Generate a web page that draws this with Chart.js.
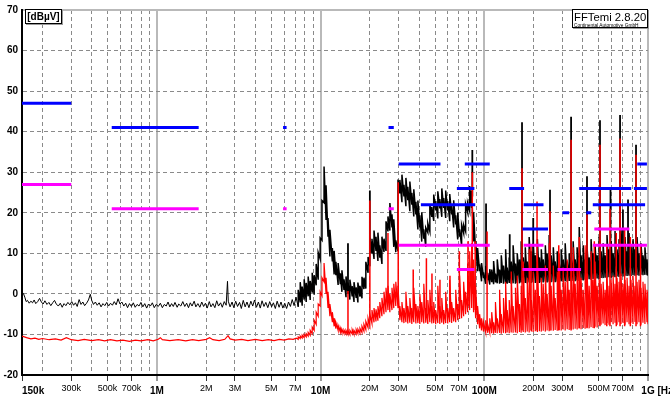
<!DOCTYPE html>
<html>
<head>
<meta charset="utf-8">
<script src="https://cdn.jsdelivr.net/npm/chart.js@4.4.1/dist/chart.umd.min.js"></script>
<style>
html, body { margin: 0; padding: 0; background: #fff; }
#wrap { position: relative; width: 670px; height: 403px; overflow: hidden; }
#c { position: absolute; left: 0; top: 0; }
.box { position: absolute; background: #fff; border: 1px solid #000; box-shadow: 1px 1px 0 #9a9a9a;
       font-family: "Liberation Sans", Arial, sans-serif; color: #000; box-sizing: border-box; }
#unit { left: 25px; top: 9px; width: 37px; height: 15px; font-weight: bold; font-size: 10px; line-height: 13px; text-align: center; }
#logo { left: 572px; top: 9px; width: 76px; height: 19px; }
#logo .t { position: absolute; left: 1px; top: 1px; font-size: 11.3px; line-height: 12px; white-space: nowrap; }
#logo .s { position: absolute; left: 1px; top: 12.5px; font-size: 4.8px; line-height: 5px; white-space: nowrap; }
</style>
</head>
<body>
<div id="wrap">
  <canvas id="c" width="670" height="403"></canvas>
  <div class="box" id="unit">[dBµV]</div>
  <div class="box" id="logo"><span class="t">FFTemi 2.8.20</span><span class="s">Continental Automotive GmbH</span></div>
</div>
<script>
/* ---------- axes ---------- */
const FONT = '"Liberation Sans", Arial, sans-serif';

const xLabelVals = [0.15, 0.3, 0.5, 0.7, 1, 2, 3, 5, 7, 10, 20, 30, 50, 70, 100, 200, 300, 500, 700, 1000];
const xLabelText = ["150k", "300k", "500k", "700k", "1M", "2M", "3M", "5M", "7M", "10M",
                    "20M", "30M", "50M", "70M", "100M", "200M", "300M", "500M", "700M", "1G [Hz]"];
const xBoldVals = [0.15, 1, 10, 100, 1000];
const xGridVals = [0.15, 0.2, 0.3, 0.4, 0.5, 0.6, 0.7, 0.8, 0.9,
                   1, 2, 3, 4, 5, 6, 7, 8, 9,
                   10, 20, 30, 40, 50, 60, 70, 80, 90,
                   100, 200, 300, 400, 500, 600, 700, 800, 900, 1000];
const decadeVals = [1, 10, 100, 1000];

/* ---------- limit lines [start MHz, end MHz, dBµV] ---------- */
const peakLimits = [
    [0.15, 0.3, 47], [0.53, 1.8, 41], [5.9, 6.2, 41], [26, 28, 41],
    [30, 54, 32], [76, 108, 32], [68, 87, 26], [41, 88, 22],
    [142, 175, 26], [174, 230, 22], [171, 245, 16], [300, 330, 20], [420, 450, 20],
    [380, 790, 26], [820, 985, 26], [460, 960, 22], [860, 985, 32]
];
const avgLimits = [
    [0.15, 0.3, 27], [0.53, 1.8, 21], [5.9, 6.2, 21], [26, 28, 21],
    [30, 108, 12], [68, 87, 6],
    [174, 230, 12], [171, 245, 6], [280, 390, 6], [470, 770, 16], [460, 985, 12]
];

/* ---------- low band, single sweep points [MHz, dBµV] ---------- */
const blackLow = [
    [0.150,-0.2],[0.153,0.1],[0.156,-0.8],[0.159,-1.9],[0.162,-1.6],[0.166,-2.3],[0.170,-1.8],[0.174,-2.2],
    [0.178,-1.5],[0.182,-2.4],[0.187,-1.9],[0.192,-1.1],[0.197,-2.0],[0.202,-2.5],[0.207,-1.7],[0.213,-2.6],
    [0.219,-2.1],[0.225,-2.9],[0.231,-2.2],[0.237,-1.6],[0.243,-2.5],[0.250,-3.0],[0.257,-2.3],[0.264,-3.3],
    [0.271,-2.4],[0.278,-2.9],[0.286,-2.1],[0.294,-2.7],[0.302,-1.9],[0.310,-2.8],[0.318,-2.2],[0.326,-3.1],
    [0.335,-1.4],[0.344,-2.6],[0.353,-2.0],[0.362,-2.9],[0.372,-2.3],[0.382,-1.5],[0.392,-0.1],[0.400,-1.6],
    [0.410,-2.6],[0.421,-2.0],[0.432,-2.8],[0.444,-2.2],[0.456,-3.2],[0.468,-2.4],[0.481,-2.9],[0.494,-2.1],
    [0.507,-3.0],[0.521,-2.3],[0.535,-2.8],[0.549,-1.9],[0.564,-2.7],[0.579,-1.2],[0.595,-2.5],[0.611,-2.0],
    [0.628,-3.0],[0.645,-2.3],[0.662,-3.4],[0.680,-2.4],[0.699,-3.1],[0.718,-2.2],[0.737,-3.3],[0.757,-2.6],
    [0.778,-3.0],[0.799,-2.1],[0.821,-3.2],[0.843,-2.4],[0.866,-3.5],[0.889,-2.5],[0.913,-3.0],[0.938,-2.2],
    [0.964,-3.4],[0.990,-2.6],[1.02,-3.1],[1.05,-2.3],[1.08,-3.4],[1.11,-2.6],[1.14,-3.0],[1.17,-2.0],
    [1.20,-3.2],[1.23,-2.4],[1.26,-3.1],[1.29,-2.1],[1.33,-3.3],[1.36,-2.5],[1.40,-3.0],[1.44,-1.9],
    [1.48,-3.1],[1.52,-2.3],[1.56,-3.4],[1.60,-2.2],[1.64,-3.0],[1.69,-1.8],[1.73,-3.2],[1.78,-2.4],
    [1.83,-3.3],[1.88,-2.0],[1.93,-3.1],[1.98,-2.3],[2.03,-3.5],[2.09,-1.9],[2.14,-3.2],[2.20,-2.4],
    [2.26,-3.4],[2.32,-1.7],[2.38,-3.0],[2.45,-2.2],[2.51,-3.3],[2.58,-1.9],[2.65,-2.8],[2.70,3.1],
    [2.73,-1.8],[2.80,-3.2],[2.88,-2.0],[2.95,-3.4],[3.03,-1.8],[3.11,-3.1],[3.20,-2.1],[3.28,-3.6],
    [3.37,-1.6],[3.46,-3.2],[3.55,-2.0],[3.65,-3.4],[3.75,-1.8],[3.85,-3.0],[3.95,-1.5],[4.06,-3.3],
    [4.17,-2.0],[4.28,-3.5],[4.39,-1.7],[4.51,-3.1],[4.63,-2.1],[4.76,-3.4],[4.89,-1.9],[5.02,-3.2],
    [5.15,-2.2],[5.29,-3.6],[5.43,-1.8],[5.58,-3.3],[5.73,-2.0],[5.88,-3.5],[6.04,-2.3],[6.20,-3.6],
    [6.37,-2.0],[6.54,-3.1],[6.71,-1.4],[6.89,-2.9],[7.08,-0.8],[7.30,-3.2]
];
const redLow = [
    [0.150,-10.4],[0.160,-10.8],[0.170,-11.1],[0.180,-10.9],[0.190,-11.2],[0.200,-11.0],[0.220,-11.3],
    [0.240,-11.1],[0.260,-11.4],[0.280,-10.8],[0.300,-11.3],[0.330,-11.5],[0.360,-11.2],[0.400,-11.5],
    [0.440,-11.3],[0.480,-11.6],[0.520,-11.3],[0.570,-11.6],[0.620,-11.4],[0.680,-11.7],[0.740,-11.4],
    [0.800,-11.6],[0.880,-11.3],[0.950,-11.6],[1.02,-11.2],[1.05,-10.8],[1.08,-11.3],[1.20,-11.5],
    [1.35,-11.3],[1.50,-11.6],[1.65,-11.3],[1.80,-11.5],[2.00,-11.2],[2.10,-10.8],[2.20,-11.3],
    [2.40,-11.5],[2.60,-11.2],[2.72,-10.3],[2.80,-11.1],[3.00,-11.4],[3.30,-11.2],[3.60,-11.5],
    [4.00,-11.2],[4.40,-11.5],[4.80,-11.3],[5.20,-11.5],[5.60,-11.2],[6.00,-11.4],[6.40,-11.1],
    [6.80,-11.2],[7.10,-10.9]
];

/* ---------- upper band, min/max per bin ---------- */
const binFreq = [
    7.30, 7.51, 7.72, 7.94, 8.17, 8.40, 8.64, 8.89, 9.14, 9.40,
    9.67, 9.94, 10.2, 10.5, 10.8, 11.1, 11.4, 11.8, 12.1, 12.4,
    12.8, 13.2, 13.5, 13.9, 14.3, 14.7, 15.1, 15.6, 16.0, 16.5,
    16.9, 17.4, 17.9, 18.4, 18.9, 19.5, 20.0, 20.6, 21.2, 21.8,
    22.4, 23.0, 23.7, 24.4, 25.1, 25.8, 26.5, 27.3, 28.0, 28.8,
    29.7, 30.5, 31.4, 32.3, 33.2, 34.1, 35.1, 36.1, 37.1, 38.2,
    39.3, 40.4, 41.5, 42.7, 43.9, 45.2, 46.5, 47.8, 49.1, 50.5,
    52.0, 53.5, 55.0, 56.5, 58.1, 59.8, 61.5, 63.2, 65.0, 66.9,
    68.8, 70.7, 72.7, 74.8, 76.9, 79.1, 81.4, 83.7, 86.0, 88.5,
    91.0, 93.6, 96.2, 99.0, 102, 105, 108, 111, 114, 117,
    120, 124, 127, 131, 135, 138, 142, 146, 150, 155,
    159, 164, 168, 173, 178, 183, 188, 194, 199, 205,
    211, 217, 223, 229, 236, 242, 249, 256, 264, 271,
    279, 287, 295, 303, 312, 321, 330, 339, 349, 359,
    369, 380, 390, 402, 413, 425, 437, 449, 462, 475,
    489, 503, 517, 532, 547, 562, 578, 595, 612, 629,
    647, 665, 684, 704, 724, 745, 766, 787, 810, 833,
    857, 881, 906, 932, 958, 986, 1000
];
const blackMin = [
    -3.2, -2.1, -2.9, -1.4, -2.0, -0.6, -1.5, 0.3, -0.2, 2.1,
    3.5, 8.6, 13.2, 22.5, 18.2, 14.1, 9.2, 8.0, 4.8, 4.6,
    2.2, 2.4, 0.5, 1.0, -0.8, 0.0, -1.4, -0.6, -2.0, -1.0,
    -2.1, -0.7, -1.1, 1.2, 1.3, 5.2, 6.8, 9.9, 8.6, 10.6,
    8.1, 8.9, 7.4, 10.3, 10.6, 15.4, 15.6, 16.4, 11.6, 10.3,
    10.5, 24.8, 22.6, 24.0, 21.6, 23.1, 20.4, 22.0, 19.1, 19.6,
    15.9, 16.4, 12.9, 13.6, 11.6, 15.1, 15.4, 19.0, 18.0, 20.6,
    18.6, 21.1, 19.0, 21.2, 18.7, 20.6, 17.9, 19.6, 16.4, 17.1,
    13.4, 14.1, 11.8, 15.0, 15.4, 20.1, 20.4, 21.2, 12.9, 10.5,
    5.6, 5.6, 3.1, 3.9, 2.5, 3.4, 2.3, 2.9, 2.4, 2.8,
    2.6, 2.5, 2.7, 2.5, 2.6, 2.5, 2.7, 2.5, 2.6, 2.5,
    2.7, 2.6, 2.8, 2.6, 2.7, 2.6, 2.8, 2.7, 2.9, 2.7,
    2.8, 2.7, 2.9, 2.8, 3.0, 2.8, 3.0, 2.9, 3.0, 2.9,
    3.0, 2.9, 3.1, 3.0, 3.1, 3.0, 3.2, 3.1, 3.2, 3.1,
    3.3, 3.2, 3.4, 3.3, 3.5, 3.4, 3.6, 3.5, 3.7, 3.6,
    3.8, 3.7, 3.9, 3.9, 4.0, 4.0, 4.1, 4.0, 4.2, 4.1,
    4.3, 4.2, 4.4, 4.3, 4.5, 4.4, 4.5, 4.4, 4.6, 4.5,
    4.6, 4.5, 4.7, 4.6, 4.7, 4.6, 4.5
];
const blackMax = [
    1.0, 2.9, 1.8, 3.6, 2.7, 4.3, 3.2, 5.2, 4.6, 7.4,
    10.2, 13.8, 23.0, 31.4, 26.8, 18.7, 15.8, 11.3, 10.6, 7.9,
    7.6, 5.1, 5.8, 3.6, 4.3, 2.8, 3.5, 1.9, 2.9, 1.6,
    2.8, 2.0, 4.2, 4.0, 7.9, 9.1, 13.9, 13.6, 15.6, 14.1,
    15.1, 12.0, 14.1, 13.6, 17.9, 19.1, 22.4, 19.6, 18.4, 13.2,
    28.2, 28.1, 29.4, 26.9, 28.6, 26.4, 27.7, 24.9, 25.8, 22.7,
    23.0, 19.4, 20.1, 15.9, 16.3, 17.4, 22.1, 21.4, 24.5, 22.9,
    25.3, 23.4, 26.0, 23.6, 25.5, 22.9, 24.6, 21.9, 23.1, 19.4,
    20.0, 15.9, 17.0, 17.0, 22.1, 22.4, 26.6, 25.4, 20.1, 13.0,
    11.3, 7.3, 7.6, 5.3, 6.9, 5.2, 6.1, 6.0, 8.1, 5.0,
    8.5, 6.0, 9.5, 7.0, 11.0, 6.5, 9.0, 8.0, 12.0, 7.5,
    10.0, 8.5, 13.0, 9.0, 11.5, 8.0, 14.0, 10.5, 12.5, 9.5,
    13.5, 9.0, 11.0, 8.5, 12.0, 10.0, 14.5, 9.5, 11.5, 8.0,
    10.5, 7.5, 11.0, 8.5, 12.5, 8.0, 10.0, 9.0, 13.0, 8.5,
    11.5, 16.5, 9.5, 12.0, 8.5, 11.0, 9.0, 13.5, 10.0, 12.0,
    9.5, 14.0, 10.5, 12.5, 9.5, 14.5, 11.0, 13.0, 10.0, 15.5,
    11.0, 13.5, 16.0, 11.5, 14.0, 10.5, 15.0, 12.0, 13.5, 11.0,
    14.0, 10.0, 12.5, 9.5, 11.5, 8.5, 7.0
];
const redMin = [
    -11.2, -11.0, -10.9, -10.8, -10.6, -10.4, -10.2, -9.8, -9.0, -7.5,
    -5.5, -3.0, -0.5, 3.0, 0.0, -3.5, -5.5, -7.0, -8.0, -8.6,
    -9.0, -9.4, -9.6, -9.8, -9.9, -10.0, -10.0, -9.9, -10.0, -9.9,
    -9.8, -9.7, -9.5, -9.2, -8.8, -8.3, -7.8, -7.3, -7.0, -6.8,
    -6.6, -6.0, -5.5, -5.0, -4.5, -4.0, -4.5, -4.0, -3.5, -3.0,
    -3.5, -6.5, -7.0, -7.2, -7.0, -7.3, -7.1, -7.4, -7.0, -7.3,
    -7.2, -7.4, -7.0, -7.3, -7.1, -7.4, -7.0, -7.3, -7.2, -7.5,
    -7.2, -7.4, -7.1, -7.5, -7.2, -7.3, -7.0, -7.2, -6.8, -7.0,
    -6.5, -6.2, -6.0, -5.5, -5.0, -4.5, -4.0, -3.5, -4.5, -6.0,
    -7.5, -8.5, -9.0, -9.3, -9.5, -9.6, -9.6, -9.7, -9.8, -9.6,
    -9.7, -9.6, -9.8, -9.6, -9.7, -9.5, -9.7, -9.5, -9.6, -9.5,
    -9.7, -9.4, -9.6, -9.4, -9.5, -9.3, -9.5, -9.3, -9.4, -9.2,
    -9.4, -9.2, -9.3, -9.1, -9.3, -9.0, -9.2, -9.0, -9.1, -8.9,
    -9.1, -8.9, -9.0, -8.8, -9.0, -8.7, -8.9, -8.7, -8.8, -8.6,
    -8.8, -8.5, -8.7, -8.4, -8.6, -8.3, -8.5, -8.2, -8.4, -8.1,
    -8.3, -7.8, -7.6, -7.3, -7.7, -7.2, -7.6, -7.0, -7.5, -7.1,
    -7.6, -7.0, -7.4, -7.2, -7.6, -7.0, -7.5, -7.1, -7.4, -6.9,
    -7.5, -7.0, -7.6, -7.1, -7.4, -7.0, -7.5
];
const redMax = [
    -10.6, -10.4, -10.2, -10.0, -9.8, -9.5, -9.0, -8.2, -6.5, -4.5,
    -2.5, 0.5, 4.0, 7.6, 4.0, 0.5, -2.5, -4.5, -6.0, -7.0,
    -7.8, -8.4, -8.7, -8.9, -9.0, -9.1, -9.0, -8.8, -9.0, -8.8,
    -8.7, -8.5, -8.0, -7.5, -6.8, -6.0, -5.0, -4.0, -3.5, -3.8,
    -3.0, -2.0, -1.0, 0.5, 1.5, 2.0, 0.0, 1.5, 2.5, 3.0,
    2.0, -3.0, -2.0, -3.5, 0.5, -3.0, -1.0, -3.5, 1.5, -2.5,
    -3.0, 0.0, -2.0, 2.5, -3.5, -1.5, 1.0, -3.0, -2.0, -4.0,
    2.0, -3.0, -1.0, -4.0, 0.5, -3.5, 3.5, -2.0, -3.5, 1.0,
    -2.5, 4.5, -1.5, 3.0, 0.5, 7.5, 10.5, 12.5, 8.5, 2.0,
    -3.0, -5.0, -6.0, -7.0, -6.5, -7.5, -6.0, -4.5, -7.0, -2.0,
    -6.0, 1.0, -5.0, -1.0, 3.0, -4.0, -1.5, 5.5, -3.0, 1.5,
    4.5, -2.5, 2.0, 8.0, -1.0, 4.0, 11.0, -1.5, 5.5, 1.0,
    9.5, -0.5, 4.0, 2.5, 7.0, 0.0, 12.5, 2.0, 7.0, -1.0,
    5.5, 10.0, 1.0, 6.5, 3.0, 8.5, 1.0, 6.0, 11.5, 2.5,
    6.0, 9.0, 4.0, 1.0, 12.0, 5.0, 2.0, 10.5, 3.5, 8.0,
    2.0, 3.5, 2.5, 3.0, 1.0, 4.0, 2.0, 3.5, 4.5, 2.5,
    4.0, 3.0, 5.0, 2.5, 3.5, 4.0, 2.0, 3.5, 4.5, 2.0,
    3.0, 3.5, 1.5, 3.0, 2.5, 1.0, 0.5
];

/* narrow carriers [MHz, from, to] */
const blackSpikes = [
    [14.7,1,12.5],[20.0,10,25.5],[84.5,24,35.5],[102.5,4,22.3],[143,4,14.7],[170,4,42.3],[199,4,18.7],
    [252,5,25.7],[339,5,43.7],[424,5,29],[509,5,42.8],[590,5,25.7],[675,5,44.1],[703,5,20.8],
    [755,5,23.3],[845,5,36.8]
];
const redSpikes = [
    [14.7,-9.6,0.7],[20.0,-6,23],[25.8,-2,15],[29.8,-2,27.5],[36.8,-5,6],[44.3,-5,8.8],[47.9,-5,5],
    [53.6,-6,3.5],[61.7,-5,4.5],[70.4,-4,10.5],[79.5,-3,13],[84.5,0,30],[88,-4,13],[104,-9,15.4],
    [170,-9,31],[193,-9,12],[210,-9,22.8],[252,-9,20.4],[285,-9,12],[339,-9,38],[380,-8.5,14],
    [424,-8.5,19.6],[470,-8.5,13],[509,-8,36.8],[560,-8,12],[586,-8,21],[640,-8,15],[675,-8,38.3],
    [720,-8,16],[780,-8,14],[845,-8,34.3],[900,-8,12]
];

/* ---------- helpers ---------- */
function toPts(arr) {
    return arr.map(([x, y]) => ({ x, y }));
}
function binPts(mins, maxs) {
    const out = [];
    binFreq.forEach((f, i) => {
        out.push({ x: f, y: mins[i] }, { x: f, y: maxs[i] });
    });
    return out;
}
function toSegs(list) {
    const out = [];
    for (const [a, b, lvl] of list) {
        out.push({ x: a, y: lvl }, { x: b, y: lvl }, { x: b, y: null });
    }
    return out;
}
function toSpikes(list) {
    const out = [];
    for (const [f, lo, hi] of list) {
        out.push({ x: f, y: lo }, { x: f, y: hi }, { x: f, y: null });
    }
    return out;
}
const isDecade = v => decadeVals.includes(v);

/* x labels: first label starts at the axis, "1G" centred on its tick */
const xLabelsPlugin = {
    id: "xLabels",
    afterDraw(chart) {
        const { ctx } = chart;
        const xs = chart.scales.x;
        ctx.save();
        ctx.fillStyle = "#000";
        ctx.textBaseline = "middle";
        xLabelVals.forEach((v, i) => {
            const px = xs.getPixelForValue(v);
            const bold = xBoldVals.includes(v);
            ctx.font = bold ? "bold 10px " + FONT : "9px " + FONT;
            const txt = xLabelText[i];
            const y = bold ? 391 : 389;
            if (i === 0) {
                ctx.textAlign = "left";
                ctx.fillText(txt, px, y);
            } else if (i === xLabelVals.length - 1) {
                ctx.textAlign = "left";
                ctx.fillText(txt, px - ctx.measureText("1G").width / 2, y);
            } else {
                ctx.textAlign = "center";
                ctx.fillText(txt, px, y);
            }
        });
        ctx.restore();
    }
};

const chart = new Chart(document.getElementById("c"), {
    type: "line",
    data: {
        datasets: [
            { data: toSegs(peakLimits), borderColor: "#0000ff", borderWidth: 3, borderCapStyle: "butt" },
            { data: toSegs(avgLimits), borderColor: "#ff00ff", borderWidth: 3, borderCapStyle: "butt" },
            { data: toSpikes(redSpikes), borderColor: "#ff0000", borderWidth: 1.5 },
            { data: toPts(redLow).concat(binPts(redMin, redMax)), borderColor: "#ff0000", borderWidth: 1.2 },
            { data: toSpikes(blackSpikes), borderColor: "#000000", borderWidth: 1.8 },
            { data: binPts(blackMin, blackMax), borderColor: "#000000", borderWidth: 1.5 },
            { data: toPts(blackLow), borderColor: "#000000", borderWidth: 1 }
        ]
    },
    options: {
        responsive: false,
        animation: false,
        devicePixelRatio: 1,
        spanGaps: false,
        layout: { padding: { top: 7.5, right: 22, bottom: 0, left: 0 } },
        elements: { point: { radius: 0 }, line: { tension: 0, borderJoinStyle: "miter" } },
        plugins: { legend: { display: false }, tooltip: { enabled: false } },
        scales: {
            x: {
                type: "logarithmic",
                min: 0.15,
                max: 1000,
                afterBuildTicks: s => { s.ticks = xGridVals.map(v => ({ value: v })); },
                afterFit: s => { s.height = 28; s.paddingLeft = 0; s.paddingRight = 0; },
                ticks: { display: false },
                grid: {
                    color: c => (c.tick && isDecade(c.tick.value)) ? "#b9b9b9" : "#8a8a8a",
                    lineWidth: c => (c.tick && isDecade(c.tick.value)) ? 2 : 1,
                    drawTicks: true,
                    tickLength: 6,
                    tickWidth: 1,
                    tickColor: c => (c.tick && xLabelVals.includes(c.tick.value)) ? "#333" : "rgba(0,0,0,0)"
                },
                border: {
                    color: "#000",
                    width: 2,
                    dash: c => (c.tick && !isDecade(c.tick.value)) ? [4, 3] : []
                }
            },
            y: {
                min: -20,
                max: 70,
                afterFit: s => { s.width = 22; },
                ticks: {
                    stepSize: 10,
                    padding: 4,
                    color: "#000",
                    font: { family: FONT, size: 10, weight: "bold" }
                },
                grid: {
                    drawTicks: false,
                    color: c => (c.tick && c.tick.value === 70) ? "#b9b9b9" : "#8a8a8a",
                    lineWidth: c => (c.tick && c.tick.value === 70) ? 2 : 1
                },
                border: {
                    color: "#000",
                    width: 2,
                    dash: c => (c.tick && c.tick.value !== 70) ? [4, 3] : []
                }
            }
        }
    },
    plugins: [xLabelsPlugin]
});
</script>
</body>
</html>
